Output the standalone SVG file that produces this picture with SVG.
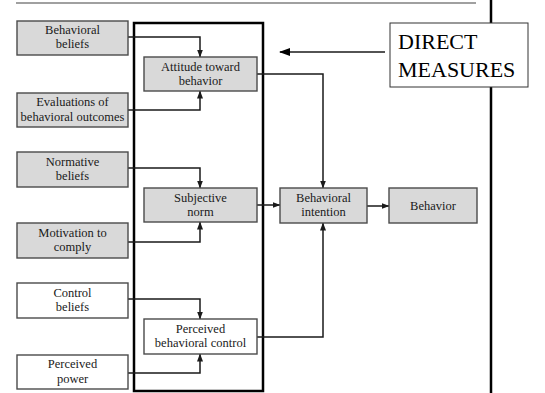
<svg xmlns="http://www.w3.org/2000/svg" width="545" height="393" viewBox="0 0 545 393">
  <style>
    .node rect { stroke: #4a4a4a; stroke-width: 1.4; }
    .node.shaded rect { fill: #d9d9d9; }
    .node.plain rect { fill: #ffffff; }
    .node text { font-family: "Liberation Serif", "Times New Roman", serif; font-size: 12.5px; fill: #1a1a1a; text-anchor: middle; }
    .conn path { fill: none; stroke: #1a1a1a; stroke-width: 1.5; }
    .frame { fill: none; stroke: #000; stroke-width: 2.5; }
    .callout text { font-family: "Liberation Serif", "Times New Roman", serif; font-size: 22px; fill: #000; }
  </style>
  <defs>
    <marker id="head" markerUnits="userSpaceOnUse" markerWidth="8" markerHeight="7" refX="7.5" refY="3" orient="auto">
      <path d="M0,0 L8,3 L0,6 z" fill="#1a1a1a"/>
    </marker>
    <marker id="headBig" markerUnits="userSpaceOnUse" markerWidth="11" markerHeight="9" refX="10" refY="4" orient="auto">
      <path d="M0,0 L11,4 L0,8 z" fill="#000"/>
    </marker>
  </defs>

  <rect width="545" height="393" fill="#ffffff"/>

  <!-- page rule and margin line -->
  <path d="M16,3 H476" stroke="#808080" stroke-width="1.5"/>
  <path d="M491,0 V393" stroke="#000" stroke-width="2.5"/>

  <!-- frame around the direct measures -->
  <rect class="frame" x="134" y="23" width="129" height="368"/>

  <g id="connectors" class="conn">
    <path d="M128,37 H200 V57" marker-end="url(#head)"/>
    <path d="M128,110 H200 V91" marker-end="url(#head)"/>
    <path d="M128,168 H200 V188" marker-end="url(#head)"/>
    <path d="M128,242 H200 V222" marker-end="url(#head)"/>
    <path d="M128,299 H200 V319" marker-end="url(#head)"/>
    <path d="M128,373 H200 V354" marker-end="url(#head)"/>
    <path d="M257,74 H323 V188" marker-end="url(#head)"/>
    <path d="M257,205 H280" marker-end="url(#head)"/>
    <path d="M257,337 H323 V223" marker-end="url(#head)"/>
    <path d="M367,206 H389" marker-end="url(#head)"/>
    <path d="M385,52 H280" stroke="#000" stroke-width="2.5" marker-end="url(#headBig)"/>
  </g>

  <g id="behavioral-beliefs" class="node shaded">
    <rect x="17" y="21" width="111" height="34"/>
    <text x="72.5" y="34">Behavioral</text>
    <text x="72.5" y="48">beliefs</text>
  </g>
  <g id="evaluations" class="node shaded">
    <rect x="17" y="93" width="111" height="34"/>
    <text x="72.5" y="106">Evaluations of</text>
    <text x="72.5" y="121">behavioral outcomes</text>
  </g>
  <g id="attitude" class="node shaded">
    <rect x="144" y="57" width="113" height="34"/>
    <text x="200.5" y="71">Attitude toward</text>
    <text x="200.5" y="85">behavior</text>
  </g>
  <g id="normative-beliefs" class="node shaded">
    <rect x="17" y="152" width="111" height="35"/>
    <text x="72.5" y="166">Normative</text>
    <text x="72.5" y="180">beliefs</text>
  </g>
  <g id="motivation" class="node shaded">
    <rect x="17" y="223" width="111" height="35"/>
    <text x="72.5" y="237">Motivation to</text>
    <text x="72.5" y="251">comply</text>
  </g>
  <g id="subjective-norm" class="node shaded">
    <rect x="144" y="188" width="113" height="34"/>
    <text x="200.5" y="202">Subjective</text>
    <text x="200.5" y="216">norm</text>
  </g>
  <g id="control-beliefs" class="node plain">
    <rect x="17" y="283" width="111" height="35"/>
    <text x="72.5" y="297">Control</text>
    <text x="72.5" y="311">beliefs</text>
  </g>
  <g id="perceived-power" class="node plain">
    <rect x="17" y="355" width="111" height="34"/>
    <text x="72.5" y="368">Perceived</text>
    <text x="72.5" y="383">power</text>
  </g>
  <g id="perceived-control" class="node plain">
    <rect x="144" y="319" width="113" height="35"/>
    <text x="200.5" y="333">Perceived</text>
    <text x="200.5" y="347">behavioral control</text>
  </g>
  <g id="intention" class="node shaded">
    <rect x="280" y="188" width="87" height="35"/>
    <text x="323.5" y="202">Behavioral</text>
    <text x="323.5" y="216">intention</text>
  </g>
  <g id="behavior" class="node shaded">
    <rect x="389" y="188" width="88" height="35"/>
    <text x="433" y="210">Behavior</text>
  </g>

  <g id="direct-measures" class="callout">
    <rect x="390" y="23" width="138" height="64" fill="#ffffff" stroke="#333" stroke-width="1"/>
    <text x="398" y="48.5">DIRECT</text>
    <text x="398" y="76.5">MEASURES</text>
  </g>
</svg>
